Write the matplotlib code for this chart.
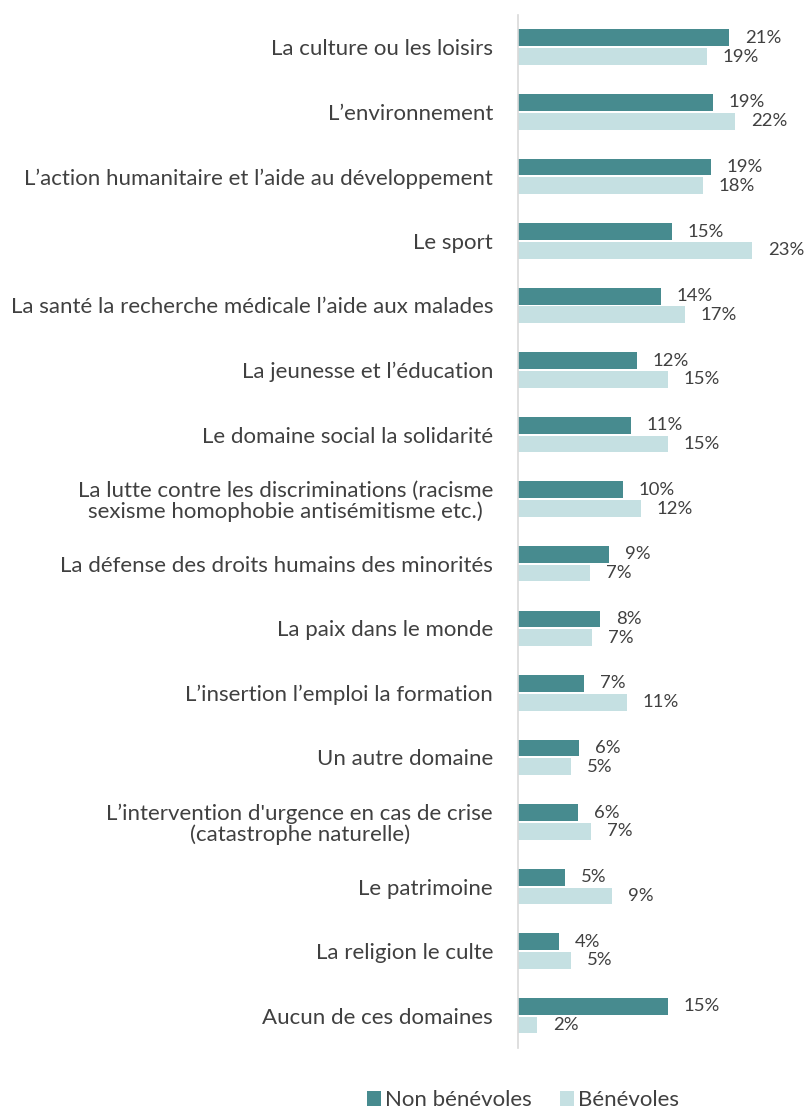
import numpy as np
import matplotlib.pyplot as plt

plt.rcParams['font.family'] = ['Lato', 'DejaVu Sans']

categories = [
    "La culture ou les loisirs",
    "L’environnement",
    "L’action humanitaire et l’aide au développement",
    "Le sport",
    "La santé la recherche médicale l’aide aux malades",
    "La jeunesse et l’éducation",
    "Le domaine social la solidarité",
    "La lutte contre les discriminations (racisme\nsexisme homophobie antisémitisme etc.)",
    "La défense des droits humains des minorités",
    "La paix dans le monde",
    "L’insertion l’emploi la formation",
    "Un autre domaine",
    "L’intervention d'urgence en cas de crise\n(catastrophe naturelle)",
    "Le patrimoine",
    "La religion le culte",
    "Aucun de ces domaines",
]
non_benevoles = [21.0, 19.4, 19.2, 15.3, 14.2, 11.8, 11.2, 10.4, 9.1, 8.2, 6.6, 6.1, 6.0, 4.7, 4.1, 14.9]
benevoles = [18.8, 21.6, 18.4, 23.3, 16.6, 14.9, 14.9, 12.2, 7.2, 7.4, 10.8, 5.3, 7.3, 9.4, 5.3, 1.9]

dark = '#478B8F'
light = '#C5E0E2'
txt = '#404040'

fig = plt.figure(figsize=(8.05, 11.08), dpi=100)
ax = fig.add_axes([0.6435, 0.0542, 0.3496, 0.9323])

y = np.arange(len(categories))
h = 0.26
b1 = ax.barh(y - h / 2 - 0.015, non_benevoles, height=h, color=dark, label='Non bénévoles')
b2 = ax.barh(y + h / 2 + 0.015, benevoles, height=h, color=light, label='Bénévoles')

for bars, vals in ((b1, non_benevoles), (b2, benevoles)):
    for bar, v in zip(bars, vals):
        ax.annotate(f"{v:.0f}%", (v, bar.get_y() + bar.get_height() / 2),
                    xytext=(16, 0), textcoords='offset pixels',
                    va='center', ha='left', fontsize=13.3, color=txt)

ax.set_ylim(len(categories) - 0.5, -0.5)
ax.set_xlim(0, 28)
ax.set_yticks(y)
ax.set_yticklabels(categories, fontsize=16, color=txt, multialignment='center',
                   linespacing=1.05)
ax.tick_params(axis='y', length=0, pad=18)
ax.set_xticks([])
for s in ['top', 'right', 'bottom']:
    ax.spines[s].set_visible(False)
ax.spines['left'].set_color('#D9D9D9')
ax.spines['left'].set_linewidth(1.2)

fig.legend(handles=[b1, b2], loc='center', bbox_to_anchor=(0.65, 0.007), ncol=2,
           frameon=False, fontsize=16, handlelength=0.63, handleheight=0.63,
           handletextpad=0.2, columnspacing=1.25, labelcolor=txt)

fig.savefig('out.png', dpi=100)
